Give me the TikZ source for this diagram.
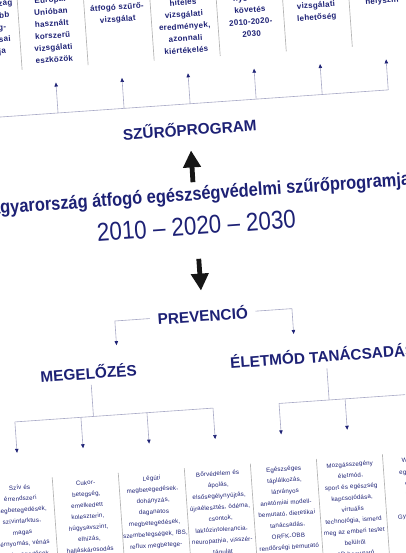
\documentclass[tikz,border=0pt]{standalone}
\usepackage{fontspec}
\setmainfont{Liberation Sans}
\newfontfamily\condfont{Liberation Sans}[FakeStretch=0.88]
\newfontfamily\yearfont{Liberation Sans}[FakeStretch=0.87]
\newfontfamily\cellfont{Liberation Sans}[LetterSpace=3]
\usepackage{tikz}
\usetikzlibrary{arrows.meta,positioning}
\definecolor{szpnavy}{HTML}{1D2175}
\definecolor{szpwire}{HTML}{A8A9C6}
\definecolor{szpsep}{HTML}{B4B4B4}
\definecolor{szpblack}{HTML}{161616}
\tikzset{
  headnode/.style={text=szpnavy,font=\fontsize{11.5}{13}\selectfont\bfseries,inner sep=0pt,anchor=base},
  titlenode/.style={text=szpnavy,font=\condfont\bfseries\fontsize{14}{16}\selectfont,inner sep=0pt,anchor=base},
  yearnode/.style={text=szpnavy,font=\yearfont\fontsize{19.3}{22}\selectfont,inner sep=0pt,anchor=base},
  topcell/.style={text=szpnavy,font=\cellfont\bfseries\fontsize{6}{9}\selectfont,align=center,text width=49.65pt,inner sep=0pt,anchor=base,text height=45pt},
  botcell/.style={text=szpnavy,font=\cellfont\fontsize{4.6}{8.4}\selectfont,align=center,text width=49.65pt,inner sep=0pt,anchor=north,text height=7.2pt,text depth=100pt},
  wire/.style={draw=szpwire,line width=0.45pt},
  tickarrow/.style={wire,-{Triangle[length=3pt,width=2.6pt,color=szpnavy]}},
  sepline/.style={draw=szpsep,line width=0.5pt},
  bigarrow/.style={draw=szpblack,line width=3.6pt,-{Triangle[length=12.75pt,width=12.75pt]}},
}
\begin{document}
\begin{tikzpicture}[x=0.75pt,y=0.75pt]
  \useasboundingbox (-202.5,-276.5) rectangle (202.5,276.5);
  \fill[white] (-202.5,-276.5) rectangle (202.5,276.5);
  \clip (-202.5,-276.5) rectangle (202.5,276.5);
  \begin{scope}[rotate=4,transform shape]
    % headings
    \node[headnode] (szuro) at (-2.5,141.5) {SZŰRŐPROGRAM};
    \node[titlenode] (title) at (-3,76.5) {Magyarország átfogó egészségvédelmi szűrőprogramja};
    \node[yearnode] (years) at (-2.5,42) {2010 – 2020 – 2030};
    \node[headnode,inner xsep=5.6pt] (prev) at (-2.5,-45) {PREVENCIÓ};
    \node[headnode] (megel) at (-120.4,-94.5) {MEGELŐZÉS};
    \node[headnode] (elet) at (114.3,-93.8) {ÉLETMÓD TANÁCSADÁS};
    \draw[bigarrow,shorten <=3.2pt,shorten >=10.9pt] (title.north) -- (szuro.south);
    \draw[bigarrow,shorten <=17.7pt,shorten >=12.9pt] (years.south) -- (prev.north);
    \draw[tickarrow,shorten >=13.6pt] (prev.west) -| ([xshift=22.4pt]megel.north);
    \draw[tickarrow,shorten >=12.2pt] (prev.east) -| ([xshift=-20.5pt]elet.north);
    % upper row
    \foreach \i/\row/\txt in {
      0/286/{Magyarország\\és a legjobb\\egészség-\\szakorvosai\\biztosítja},
      1/286/{Európai\\Unióban\\használt\\korszerű\\vizsgálati\\eszközök},
      2/274/{átfogó szűrő-\\vizsgálat},
      3/274/{hiteles\\vizsgálati\\eredmények,\\azonnali\\kiértékelés},
      4/274/{nyomon\\követés\\2010-2020-\\2030},
      5/262/{vizsgálati\\lehetőség},
      6/262/{helyszín}}{
      \pgfmathsetmacro\dep{(\row-221)*0.75}
      \node[topcell,text depth=\dep pt] (top\i) at ({66.2*(\i-3)-0.3},{\row-2}) {\txt};
    }
    \coordinate (tbar) at (0,173.2);
    \draw[wire] (top0.south |- tbar) -- (top6.south |- tbar);
    \foreach \i in {0,...,6}{
      \draw[tickarrow,shorten >=11.25pt] (top\i.south |- tbar) -- (top\i.south);
      \draw[sepline] (top\i.south east) -- (top\i.north east);
    }
    % lower row
    \foreach \i/\txt in {
      1/{Szív és\\érrendszeri\\megbetegedések,\\szívinfarktus,\\magas\\vérnyomás, vénás\\megbetegedések},
      2/{Cukor-\\betegség,\\emelkedett\\koleszterin,\\húgysavszint,\\elhízás,\\halláskárosodás},
      3/{Légúti\\megbetegedések,\\dohányzás,\\daganatos\\megbetegedések,\\szembetegségek, IBS,\\reflux megbetege-\\dések},
      4/{Bőrvédelem és\\ápolás,\\elsősegélynyújtás,\\újraélesztés, ödéma,\\csontok,\\laktózintolerancia,\\neuropathia, visszér-\\tágulat},
      5/{Egészséges\\táplálkozás,\\látványos\\anatómiai modell-\\bemutató, dietetikai\\tanácsadás,\\ORFK-OBB\\rendőrségi bemutató},
      6/{Mozgásszegény\\életmód,\\sport és egészség\\kapcsolódása,\\virtuális\\technológia, ismerd\\meg az emberi testet\\belülről\\3D bemutató},
      7/{Wellness,\\egészséges\\életvitel,\\pihenés,\\nevelés,\\Gyermekeknek}}{
      \node[botcell] (bot\i) at ({1.3+66.2*(\i-4)},-190) {\txt};
    }
    \coordinate (mbar) at (0,-132);
    \coordinate (mdrop) at ([xshift=1.4pt]megel.south);
    \coordinate (edrop) at ([xshift=2.55pt]elet.south);
    \draw[wire,shorten <=4.1pt] (mdrop) -- (mdrop |- mbar);
    \draw[wire,shorten <=4.5pt] (edrop) -- (edrop |- mbar);
    \draw[wire] (bot1.north |- mbar) -- (bot4.north |- mbar);
    \draw[wire] (bot5.north |- mbar) -- (bot7.north |- mbar);
    \foreach \i in {1,...,7}{
      \draw[tickarrow,shorten >=20.25pt] (bot\i.north |- mbar) -- (bot\i.north);
      \draw[sepline] (bot\i.north east) -- (bot\i.south east);
    }
  \end{scope}
\end{tikzpicture}
\end{document}
